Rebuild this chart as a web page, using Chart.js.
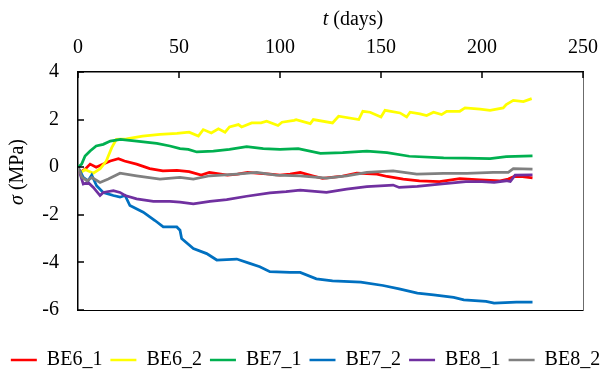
<!DOCTYPE html>
<html lang="en">
<head>
  <meta charset="UTF-8" />
  <title>Stress vs time</title>
  <script src="https://cdn.jsdelivr.net/npm/chart.js"></script>
  <style>
    body { margin: 0; background: #fff; }
    .wrap { width: 611px; height: 380px; }
  </style>
</head>
<body>
  <div class="wrap"><canvas id="stressChart"></canvas></div>

  <script>
    const seriesNames = ["BE6_1", "BE6_2", "BE7_1", "BE7_2", "BE8_1", "BE8_2"];
    const seriesColors = ["#ff0000", "#ffff00", "#00b050", "#0070c0", "#7030a0", "#808080"];
    const xTicks = [0, 50, 100, 150, 200, 250];
    const yTicks = [-6, -4, -2, 0, 2, 4];

    // days / stress (MPa)
    const be61Days = [0, 1, 3.5, 6, 9, 12.5, 16, 20, 23, 29, 35.5, 42, 49, 55, 61, 65, 74, 79, 84, 90, 95, 100, 105, 110, 116, 121, 130, 138, 148, 153, 161, 169, 179, 189, 199, 209, 213, 216, 220, 225];
    const be61Vals = [0, -0.22, -0.08, 0.13, 0, 0.13, 0.26, 0.36, 0.26, 0.13, -0.06, -0.15, -0.13, -0.19, -0.33, -0.22, -0.33, -0.29, -0.22, -0.26, -0.29, -0.33, -0.29, -0.22, -0.36, -0.47, -0.39, -0.25, -0.29, -0.39, -0.5, -0.57, -0.61, -0.48, -0.53, -0.57, -0.5, -0.39, -0.4, -0.45];

    const be62Days = [0, 1, 3.5, 7.6, 11, 14, 16.7, 19, 24, 32, 40.6, 49, 55, 59.6, 62, 66, 69.5, 72.8, 75, 79.4, 81, 86, 90.6, 93.4, 99, 101, 107, 108, 115, 116.5, 126, 129, 139, 141, 144.6, 150, 152, 159.4, 162.7, 164.4, 169.3, 172.6, 176, 180, 182.5, 189, 191.6, 199, 204, 210.5, 212, 215.5, 220.5, 224.6];
    const be62Vals = [0, -0.25, -0.1, -0.25, -0.06, 0.26, 0.82, 1.17, 1.19, 1.31, 1.38, 1.42, 1.47, 1.31, 1.58, 1.44, 1.61, 1.47, 1.69, 1.79, 1.69, 1.86, 1.86, 1.93, 1.75, 1.89, 1.97, 2.0, 1.83, 2.0, 1.86, 2.14, 2.0, 2.35, 2.31, 2.11, 2.39, 2.28, 2.11, 2.31, 2.24, 2.17, 2.31, 2.21, 2.35, 2.35, 2.49, 2.44, 2.39, 2.49, 2.63, 2.81, 2.76, 2.88];

    const be71Days = [0, 1.8, 3.5, 6, 9, 12.5, 16, 21, 29, 39, 45.5, 50.5, 54.6, 58.8, 67, 75, 83.5, 91.7, 100, 109, 120, 131, 143, 153, 164, 181, 192, 204, 212, 225];
    const be71Vals = [0, 0.13, 0.47, 0.68, 0.89, 0.96, 1.1, 1.17, 1.1, 1.0, 0.89, 0.78, 0.75, 0.64, 0.68, 0.75, 0.86, 0.78, 0.75, 0.78, 0.58, 0.61, 0.68, 0.61, 0.46, 0.39, 0.38, 0.36, 0.44, 0.48];

    const be72Days = [0, 2.6, 5, 6.8, 9.2, 12.5, 17.5, 20.8, 23.3, 25.7, 32.3, 38.1, 42.2, 48.9, 50.5, 51.3, 57.1, 63.7, 68.7, 78.6, 85, 90, 95, 105, 110, 118, 126, 140, 151, 159, 168, 176, 186, 191, 202, 206, 217, 225];
    const be72Vals = [0, -0.43, -0.57, -0.33, -0.78, -1.06, -1.19, -1.26, -1.19, -1.61, -1.89, -2.24, -2.51, -2.51, -2.65, -3.0, -3.42, -3.63, -3.9, -3.86, -4.04, -4.18, -4.39, -4.42, -4.42, -4.69, -4.78, -4.83, -4.97, -5.11, -5.29, -5.36, -5.47, -5.57, -5.64, -5.71, -5.67, -5.67];

    const be81Days = [0, 2.6, 5, 7.6, 10.9, 12.5, 17.5, 20.8, 23.3, 29, 37.3, 45.5, 50.5, 57.1, 65.3, 73.6, 83.5, 95, 103, 110, 123, 133, 143, 156, 159, 168, 179, 192, 200, 206, 212, 214, 216.4, 225];
    const be81Vals = [0, -0.71, -0.64, -0.85, -1.19, -1.06, -0.99, -1.06, -1.19, -1.33, -1.44, -1.44, -1.47, -1.54, -1.44, -1.36, -1.22, -1.08, -1.03, -0.96, -1.06, -0.92, -0.82, -0.75, -0.85, -0.81, -0.71, -0.61, -0.61, -0.64, -0.57, -0.6, -0.33, -0.32];

    const be82Days = [0, 2, 4.5, 6.8, 10.9, 15, 20.8, 29, 40.6, 50.5, 57.1, 65.3, 78.6, 88.5, 98, 110, 123, 133, 143, 156, 167.7, 181, 192.5, 205.6, 213, 215.5, 225];
    const be82Vals = [0, -0.43, -0.57, -0.43, -0.64, -0.5, -0.25, -0.36, -0.5, -0.43, -0.5, -0.36, -0.29, -0.22, -0.33, -0.36, -0.46, -0.36, -0.22, -0.15, -0.29, -0.26, -0.26, -0.22, -0.22, -0.06, -0.08];

    const allDays = [be61Days, be62Days, be71Days, be72Days, be81Days, be82Days];
    const allVals = [be61Vals, be62Vals, be71Vals, be72Vals, be81Vals, be82Vals];

    const FONT = "'Liberation Serif', 'Times New Roman', serif";
    const FS = 20;

    function toPoints(days, vals) {
      return days.map((d, i) => ({ x: d, y: vals[i] }));
    }

    const datasets = seriesNames.map((name, i) => ({
      label: name,
      data: toPoints(allDays[i], allVals[i]),
      borderColor: seriesColors[i],
      backgroundColor: seriesColors[i],
      borderWidth: 2.75,
      pointRadius: 0,
      tension: 0,
      order: seriesNames.length - i,   // later series on top, like Excel
      xAxisID: "x",
      yAxisID: "y"
    }));

    // inner tick marks + axis titles with an italic symbol
    const axisExtras = {
      id: "axisExtras",
      afterDraw(chart) {
        const { ctx, chartArea, scales } = chart;
        ctx.save();
        ctx.strokeStyle = "#000";
        ctx.lineWidth = 1.5;
        ctx.beginPath();
        xTicks.forEach(t => {
          const px = Math.round(scales.x.getPixelForValue(t));
          ctx.moveTo(px, chartArea.top);
          ctx.lineTo(px, chartArea.top + 6);
        });
        yTicks.forEach(t => {
          const py = Math.round(scales.y.getPixelForValue(t));
          ctx.moveTo(chartArea.left, py);
          ctx.lineTo(chartArea.left + 6, py);
        });
        ctx.stroke();

        ctx.fillStyle = "#000";
        ctx.textBaseline = "middle";
        drawTitle(ctx, "t", " (days)", 353, 20, 0);
        drawTitle(ctx, "\u03c3", " (MPa)", 18, 172, -Math.PI / 2);
        ctx.restore();
      }
    };

    function drawTitle(ctx, sym, rest, cx, cy, rot) {
      ctx.save();
      ctx.translate(cx, cy);
      ctx.rotate(rot);
      ctx.font = `italic ${FS}px ${FONT}`;
      const w1 = ctx.measureText(sym).width;
      ctx.font = `${FS}px ${FONT}`;
      const w2 = ctx.measureText(rest).width;
      let x = -(w1 + w2) / 2;
      ctx.textAlign = "left";
      ctx.font = `italic ${FS}px ${FONT}`;
      ctx.fillText(sym, x, 0);
      ctx.font = `${FS}px ${FONT}`;
      ctx.fillText(rest, x + w1, 0);
      ctx.restore();
    }

    const ctx = document.getElementById("stressChart").getContext("2d");
    new Chart(ctx, {
      type: "line",
      data: { datasets },
      plugins: [axisExtras],
      options: {
        responsive: true,
        maintainAspectRatio: false,
        animation: false,
        layout: { padding: 0 },
        plugins: {
          tooltip: { enabled: false },
          legend: {
            position: "bottom",
            labels: {
              color: "#000",
              font: { family: FONT, size: FS },
              usePointStyle: true,
              pointStyleWidth: 26,
              padding: 8,
              generateLabels: chart => chart.data.datasets.map((ds, i) => ({
                text: ds.label,
                fillStyle: ds.borderColor,
                strokeStyle: ds.borderColor,
                lineWidth: 2.5,
                pointStyle: "line",
                datasetIndex: i,
                hidden: false
              }))
            }
          }
        },
        scales: {
          x: {
            type: "linear",
            position: "top",
            min: 0,
            max: 250,
            afterBuildTicks: s => { s.ticks = xTicks.map(v => ({ value: v })); },
            afterFit: s => { s.height = 72; },
            grid: { display: false, drawTicks: false },
            border: { display: true, color: "#000", width: 1.5 },
            ticks: { color: "#000", font: { family: FONT, size: FS }, padding: 12, maxRotation: 0 }
          },
          y: {
            type: "linear",
            position: "left",
            min: -6,
            max: 4,
            afterBuildTicks: s => { s.ticks = yTicks.map(v => ({ value: v })); },
            afterFit: s => { s.width = 78; },
            grid: { display: false, drawTicks: false },
            border: { display: true, color: "#000", width: 1.5 },
            ticks: { color: "#000", font: { family: FONT, size: FS }, padding: 19 }
          },
          x2: {
            type: "linear",
            position: "bottom",
            min: 0,
            max: 1,
            afterFit: s => { s.height = 32; },
            grid: { display: false, drawTicks: false },
            border: { display: true, color: "#000", width: 1 },
            ticks: { display: false }
          },
          y2: {
            type: "linear",
            position: "right",
            min: 0,
            max: 1,
            afterFit: s => { s.width = 28; },
            grid: { display: false, drawTicks: false },
            border: { display: true, color: "#6b6b6b", width: 1 },
            ticks: { display: false }
          }
        }
      }
    });
  </script>
</body>
</html>
